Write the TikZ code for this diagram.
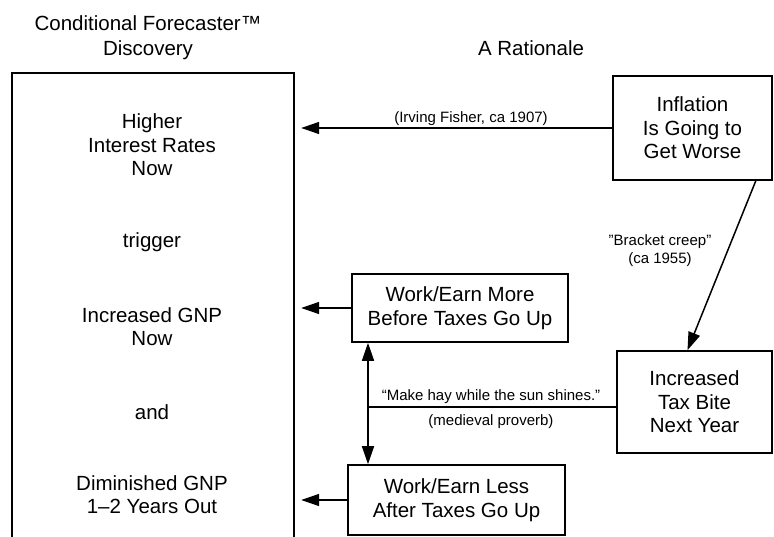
\documentclass[tikz,border=0pt]{standalone}
\usepackage{fontspec}
\setmainfont{Liberation Sans}
\usetikzlibrary{arrows.meta,calc}
\begin{document}
\begin{tikzpicture}[x=1pt,y=-1pt,
  box/.style={draw,line width=1.6pt,rectangle,inner sep=0pt,align=center,font=\fontsize{20.5}{23.5}\selectfont},
  txt/.style={align=center,inner sep=0pt,font=\fontsize{20.5}{23.5}\selectfont},
  title/.style={align=center,inner sep=0pt,font=\fontsize{20.5}{25}\selectfont},
  small/.style={align=center,inner sep=0pt,font=\fontsize{15}{17.5}\selectfont},
  arr/.style={line width=1.5pt,-{Triangle[length=18pt,width=12pt]}},
  darr/.style={line width=1.5pt,{Triangle[length=18pt,width=12pt]}-{Triangle[length=18pt,width=12pt]}},
  conn/.style={line width=1.5pt}]
\useasboundingbox (0,0) rectangle (774,537);
% titles
\node[title] (t1) at (148,37.5) {Conditional Forecaster™\\Discovery};
\node[title] (t2) at (531,48) {A Rationale};
% left frame
\node[minimum width=282pt,minimum height=470pt,inner sep=0pt] (disc) at (153,308) {};
\draw[line width=1.6pt] (disc.south west) -- (disc.north west) -- (disc.north east) -- (disc.south east);
\node[txt] (higher) at (152,145) {Higher\\Interest Rates\\Now};
\node[txt] (trig) at (152,242) {trigger};
\node[txt] (incgnp) at (152,326.5) {Increased GNP\\Now};
\node[txt] (and) at (152,412) {and};
\node[txt] (dimgnp) at (152,494.5) {Diminished GNP\\1–2 Years Out};
% right boxes
\node[box,minimum width=159pt,minimum height=104pt] (infl) at (692.5,128) {Inflation\\Is Going to\\Get Worse};
\node[box,minimum width=155pt,minimum height=102pt] (tax) at (694.5,402) {Increased\\Tax Bite\\Next Year};
\node[box,minimum width=216pt,minimum height=68pt] (more) at (460,308) {Work/Earn More\\Before Taxes Go Up};
\node[box,minimum width=217pt,minimum height=70pt] (less) at (456.5,500) {Work/Earn Less\\After Taxes Go Up};
% connectors
\draw[arr,shorten >=7pt] (infl.west) -- (infl.west -| disc.east);
\draw[arr,shorten >=7pt] (more.west) -- (more.west -| disc.east);
\draw[arr,shorten >=7pt] (less.west) -- (less.west -| disc.east);
\draw[arr] ($(infl.south east)+(-17,0)$) -- ($(tax.north)+(-7,0)$);
\coordinate (v) at (368,0);
\coordinate (hy) at (0,407);
\draw[darr] (more.south -| v) -- (less.north -| v);
\draw[conn] (tax.west |- hy) -- (v |- hy);
% labels
\node[small] (fisher) at (471,119) {(Irving Fisher, ca 1907)};
\node[small] (creep) at (660,250.5) {\char34 Bracket creep\char34\\(ca 1955)};
\node[small] (hay) at (491,397) {“Make hay while the sun shines.”};
\node[small] (proverb) at (491,422) {(medieval proverb)};
\end{tikzpicture}
\end{document}
